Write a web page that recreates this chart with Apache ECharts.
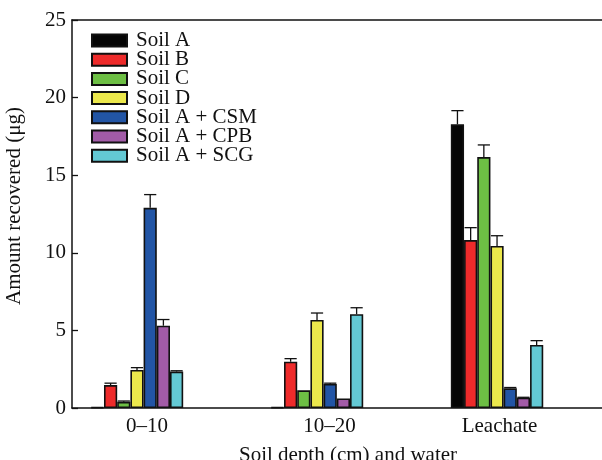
<!DOCTYPE html>
<html>
<head>
<meta charset="utf-8">
<script src="https://cdn.jsdelivr.net/npm/echarts@6/dist/echarts.min.js"></script>
<style>html,body{margin:0;padding:0;background:#fff}#c{width:602px;height:460px}</style>
</head>
<body>
<div id="c"></div>
<script>
const categories = ['0\u201310', '10\u201320', 'Leachate'];
const seriesNames = ['Soil A', 'Soil B', 'Soil C', 'Soil D', 'Soil A + CSM', 'Soil A + CPB', 'Soil A + SCG'];
const soilA = [0.05, 0.05, 18.28];
const soilB = [1.48, 2.98, 10.82];
const soilC = [0.4, 1.14, 16.17];
const soilD = [2.45, 5.67, 10.44];
const soilCSM = [12.9, 1.55, 1.27];
const soilCPB = [5.3, 0.62, 0.66];
const soilSCG = [2.35, 6.04, 4.06];
const errA = [0, 0, 0.88];
const errB = [0.12, 0.2, 0.8];
const errC = [0.05, 0, 0.78];
const errD = [0.15, 0.45, 0.66];
const errCSM = [0.85, 0.05, 0.05];
const errCPB = [0.4, 0, 0.03];
const errSCG = [0.05, 0.42, 0.28];
const yTicks = [0, 5, 10, 15, 20, 25];

const values = [soilA, soilB, soilC, soilD, soilCSM, soilCPB, soilSCG];
const errors = [errA, errB, errC, errD, errCSM, errCPB, errSCG];
const colors = ['#050505', '#ee2b2b', '#6dbf44', '#ece84c', '#2255a5', '#a25ba7', '#63c9d4'];
const FONT = '"Liberation Serif", "DejaVu Serif", serif';
const BW = 13.2;
const N = seriesNames.length;
const labelShift = [20, 25, 5];

const series = [];
values.forEach((vals, i) => {
  series.push({
    name: seriesNames[i],
    type: 'bar',
    barWidth: BW,
    barGap: '0%',
    data: vals.map((v, k) => [k + 1, v]),
    itemStyle: { color: colors[i], borderColor: '#111', borderWidth: 1.6 },
    emphasis: { disabled: true },
    z: 2
  });
});
values.forEach((vals, i) => {
  series.push({
    type: 'custom',
    data: vals.map((v, k) => [k + 1, v, errors[i][k]]),
    encode: { x: 0, y: 1 },
    z: 3,
    silent: true,
    renderItem: function (params, api) {
      const x = api.value(0), v = api.value(1), e = api.value(2);
      if (!e) return null;
      const b = api.coord([x, v]);
      const t = api.coord([x, v + e]);
      const cx = b[0] + (i - (N - 1) / 2) * BW;
      const st = { stroke: '#111', lineWidth: 1.3 };
      return {
        type: 'group',
        children: [
          { type: 'line', shape: { x1: cx, y1: b[1], x2: cx, y2: t[1] }, style: st },
          { type: 'line', shape: { x1: cx - BW / 2 + 0.5, y1: t[1], x2: cx + BW / 2 - 0.5, y2: t[1] }, style: st }
        ]
      };
    }
  });
});

const rich = {};
labelShift.forEach((p, k) => {
  rich['l' + k] = { padding: [0, 0, 0, p], fontFamily: FONT, fontSize: 21, color: '#111' };
});

const chart = echarts.init(document.getElementById('c'), null, { renderer: 'canvas' });
chart.setOption({
  animation: false,
  backgroundColor: '#fff',
  grid: { left: 72, right: 0, top: 20, bottom: 52, containLabel: false, outerBoundsMode: 'none' },
  legend: {
    data: seriesNames,
    icon: 'rect',
    orient: 'vertical',
    left: 91,
    top: 30,
    padding: 0,
    itemWidth: 35,
    itemHeight: 12,
    itemGap: -1.8,
    selectedMode: false,
    textStyle: { fontFamily: FONT, fontSize: 21, color: '#111', padding: [0, 0, 0, 4] }
  },
  xAxis: [{
    type: 'value',
    min: 0.639,
    max: 3.583,
    position: 'bottom',
    name: 'Soil depth (cm) and water',
    nameLocation: 'middle',
    nameGap: 37,
    nameTextStyle: { fontFamily: FONT, fontSize: 21, color: '#111', padding: [0, 0, 0, 22] },
    axisLine: { lineStyle: { color: '#111', width: 1.5 } },
    axisTick: { show: false },
    splitLine: { show: false },
    axisLabel: {
      customValues: [1, 2, 3],
      margin: 8,
      formatter: function (v) {
        const k = Math.round(v) - 1;
        return '{l' + k + '|' + categories[k] + '}';
      },
      rich: rich
    }
  }, {
    type: 'value',
    min: 0.639,
    max: 3.583,
    position: 'top',
    axisLine: { show: true, onZero: false, lineStyle: { color: '#111', width: 1.5 } },
    axisTick: { show: false },
    axisLabel: { show: false },
    splitLine: { show: false }
  }],
  yAxis: {
    type: 'value',
    min: yTicks[0],
    max: yTicks[yTicks.length - 1],
    interval: 5,
    name: 'Amount recovered (\u03bcg)',
    nameLocation: 'middle',
    nameGap: 47,
    nameTextStyle: { fontFamily: FONT, fontSize: 21, color: '#111', padding: [0, 0, 0, 16] },
    axisLine: { show: true, lineStyle: { color: '#111', width: 1.5 } },
    axisTick: { show: true, inside: true, length: 6, lineStyle: { color: '#111', width: 1.3 } },
    splitLine: { show: false },
    axisLabel: { fontFamily: FONT, fontSize: 21, color: '#111', margin: 6 }
  },
  series: series
});
</script>
</body>
</html>
